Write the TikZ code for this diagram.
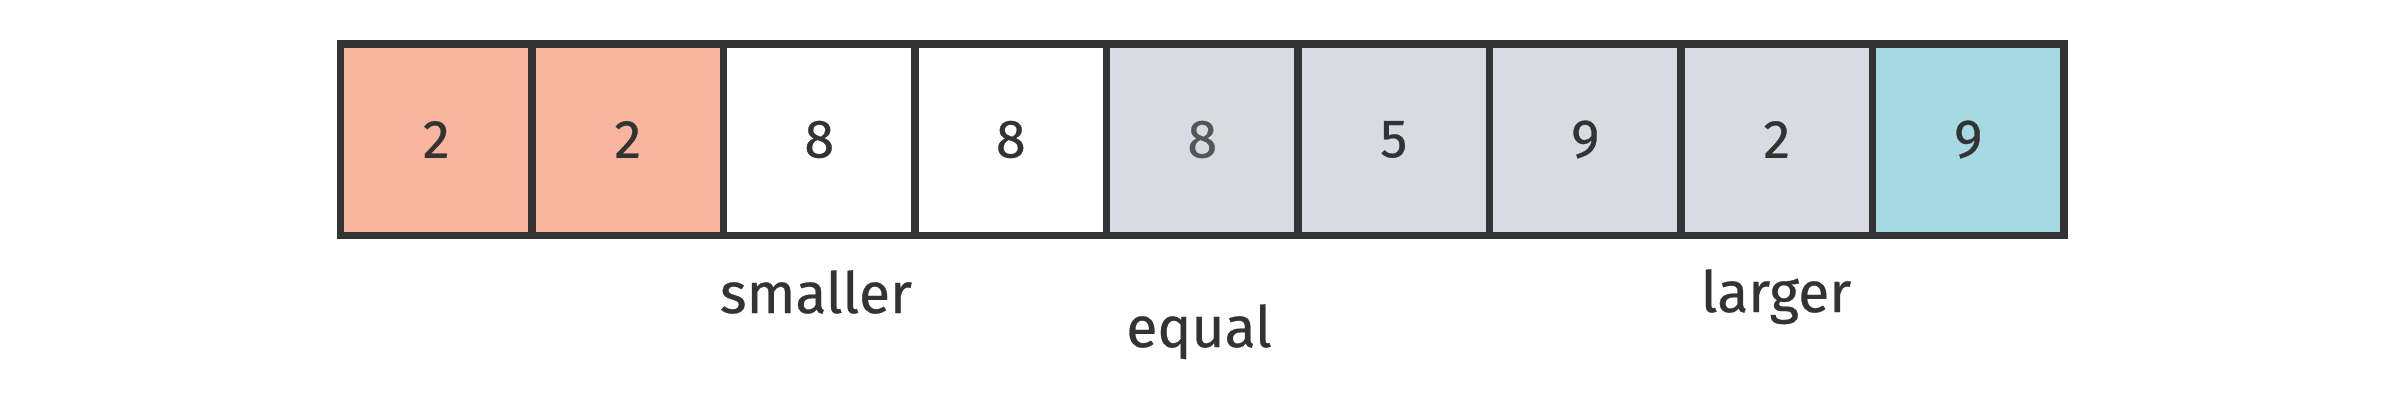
\documentclass[tikz,border=0pt]{standalone}
\usepackage{fontspec}
\setmainfont{Fira Sans}[BoldFont={Fira Sans}, BoldFeatures={FakeBold=0.5}]
\definecolor{salmon}{HTML}{F7B5A0}
\definecolor{greycell}{HTML}{D8DBE2}
\definecolor{cyancell}{HTML}{A6D9E2}
\definecolor{ink}{HTML}{333333}
\definecolor{softink}{HTML}{555555}
\begin{document}
\begin{tikzpicture}[x=0.5pt,y=-0.5pt,
  cell/.style={draw=ink, line width=3.75pt, minimum width=95.75pt, minimum height=95.75pt,
    inner sep=0pt, outer sep=0pt, text=ink, font=\fontsize{27}{30}\selectfont\bfseries},
  lbl/.style={anchor=base, text=ink, inner sep=0pt, font=\fontsize{28.5}{32}\selectfont\bfseries}]
\useasboundingbox (0,0) rectangle (2400,404);
\fill[white] (0,0) rectangle (2400,404);
\node[cell, fill=salmon]   (c0) at (436.25,139.5) {2};
\node[cell, fill=salmon]   (c1) at (627.75,139.5) {2};
\node[cell, fill=white]    (c2) at (819.25,139.5) {8};
\node[cell, fill=white]    (c3) at (1010.75,139.5) {8};
\node[cell, fill=greycell, text=softink] (c4) at (1202.25,139.5) {8};
\node[cell, fill=greycell] (c5) at (1393.75,139.5) {5};
\node[cell, fill=greycell] (c6) at (1585.25,139.5) {9};
\node[cell, fill=greycell] (c7) at (1776.75,139.5) {2};
\node[cell, fill=cyancell] (c8) at (1968.25,139.5) {9};
\node[lbl] (smaller) at (816,313) {smaller};
\node[lbl] (equal) at (1199,347) {equal};
\node[lbl] (larger) at (1776,312) {larger};
\end{tikzpicture}
\end{document}
